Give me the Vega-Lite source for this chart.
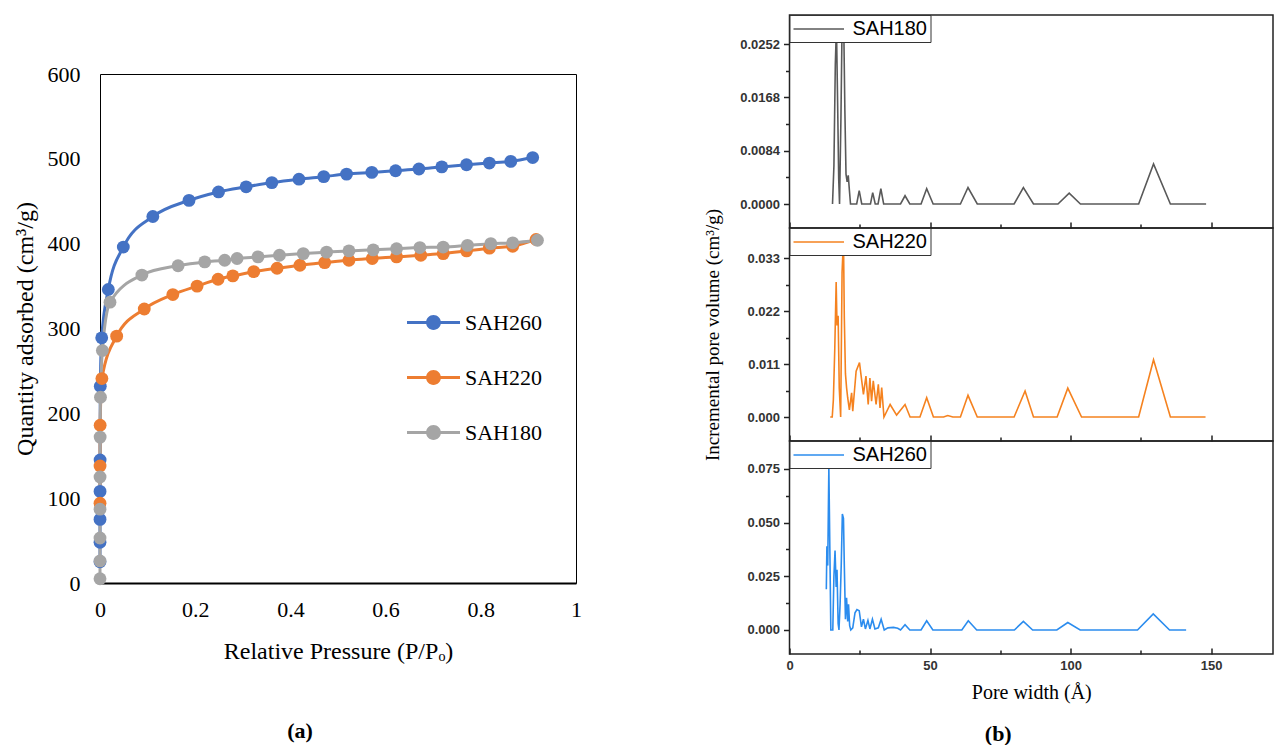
{
  "$schema": "https://vega.github.io/schema/vega-lite/v6.json",
  "background": "white",
  "padding": {"left": 12, "top": 13, "right": 0, "bottom": 0},
  "config": {
    "font": "Liberation Sans",
    "view": {"stroke": null},
    "axis": {"grid": false, "labelFlush": false, "labelOverlap": false}
  },
  "datasets": {
    "iso": [
      {"sample": "SAH260", "p": 0.00001, "q": 25},
      {"sample": "SAH260", "p": 0.00003, "q": 48},
      {"sample": "SAH260", "p": 0.00006, "q": 75},
      {"sample": "SAH260", "p": 0.0001, "q": 108},
      {"sample": "SAH260", "p": 0.0002, "q": 145},
      {"sample": "SAH260", "p": 0.0006, "q": 232},
      {"sample": "SAH260", "p": 0.0036, "q": 289},
      {"sample": "SAH260", "p": 0.0175, "q": 346},
      {"sample": "SAH260", "p": 0.049, "q": 396},
      {"sample": "SAH260", "p": 0.111, "q": 432},
      {"sample": "SAH260", "p": 0.187, "q": 451},
      {"sample": "SAH260", "p": 0.249, "q": 461},
      {"sample": "SAH260", "p": 0.307, "q": 467},
      {"sample": "SAH260", "p": 0.361, "q": 472},
      {"sample": "SAH260", "p": 0.418, "q": 476},
      {"sample": "SAH260", "p": 0.47, "q": 479},
      {"sample": "SAH260", "p": 0.518, "q": 482},
      {"sample": "SAH260", "p": 0.571, "q": 484},
      {"sample": "SAH260", "p": 0.621, "q": 486},
      {"sample": "SAH260", "p": 0.67, "q": 488},
      {"sample": "SAH260", "p": 0.718, "q": 490.5},
      {"sample": "SAH260", "p": 0.77, "q": 493},
      {"sample": "SAH260", "p": 0.818, "q": 495},
      {"sample": "SAH260", "p": 0.863, "q": 497},
      {"sample": "SAH260", "p": 0.909, "q": 501.5},
      {"sample": "SAH220", "p": 0.00003, "q": 94},
      {"sample": "SAH220", "p": 0.0001, "q": 138},
      {"sample": "SAH220", "p": 0.0003, "q": 186},
      {"sample": "SAH220", "p": 0.004, "q": 241},
      {"sample": "SAH220", "p": 0.035, "q": 291},
      {"sample": "SAH220", "p": 0.093, "q": 323},
      {"sample": "SAH220", "p": 0.153, "q": 340},
      {"sample": "SAH220", "p": 0.204, "q": 350},
      {"sample": "SAH220", "p": 0.248, "q": 358},
      {"sample": "SAH220", "p": 0.279, "q": 362},
      {"sample": "SAH220", "p": 0.323, "q": 367},
      {"sample": "SAH220", "p": 0.372, "q": 371},
      {"sample": "SAH220", "p": 0.42, "q": 374.6},
      {"sample": "SAH220", "p": 0.472, "q": 377.7},
      {"sample": "SAH220", "p": 0.523, "q": 380.5},
      {"sample": "SAH220", "p": 0.572, "q": 382.5},
      {"sample": "SAH220", "p": 0.623, "q": 384.4},
      {"sample": "SAH220", "p": 0.674, "q": 386.4},
      {"sample": "SAH220", "p": 0.721, "q": 388.3},
      {"sample": "SAH220", "p": 0.77, "q": 391.5},
      {"sample": "SAH220", "p": 0.818, "q": 394.7},
      {"sample": "SAH220", "p": 0.867, "q": 397},
      {"sample": "SAH220", "p": 0.916, "q": 405},
      {"sample": "SAH180", "p": 0.000005, "q": 5},
      {"sample": "SAH180", "p": 0.00001, "q": 26},
      {"sample": "SAH180", "p": 0.00003, "q": 53},
      {"sample": "SAH180", "p": 0.00005, "q": 87},
      {"sample": "SAH180", "p": 0.0001, "q": 125},
      {"sample": "SAH180", "p": 0.0003, "q": 172},
      {"sample": "SAH180", "p": 0.001, "q": 219},
      {"sample": "SAH180", "p": 0.005, "q": 274},
      {"sample": "SAH180", "p": 0.021, "q": 331},
      {"sample": "SAH180", "p": 0.088, "q": 363},
      {"sample": "SAH180", "p": 0.164, "q": 374},
      {"sample": "SAH180", "p": 0.22, "q": 378.5},
      {"sample": "SAH180", "p": 0.262, "q": 380.5},
      {"sample": "SAH180", "p": 0.288, "q": 382.5},
      {"sample": "SAH180", "p": 0.332, "q": 384.4},
      {"sample": "SAH180", "p": 0.377, "q": 386.4},
      {"sample": "SAH180", "p": 0.427, "q": 388.3},
      {"sample": "SAH180", "p": 0.476, "q": 390},
      {"sample": "SAH180", "p": 0.523, "q": 391.5},
      {"sample": "SAH180", "p": 0.574, "q": 392.7},
      {"sample": "SAH180", "p": 0.623, "q": 394},
      {"sample": "SAH180", "p": 0.672, "q": 395.4},
      {"sample": "SAH180", "p": 0.721, "q": 396},
      {"sample": "SAH180", "p": 0.772, "q": 398},
      {"sample": "SAH180", "p": 0.821, "q": 400},
      {"sample": "SAH180", "p": 0.867, "q": 401},
      {"sample": "SAH180", "p": 0.919, "q": 404}
    ],
    "psd": [
      {"sample": "SAH180", "w": 15.3, "v": 0},
      {"sample": "SAH180", "w": 15.8, "v": 0.006},
      {"sample": "SAH180", "w": 16.3, "v": 0.022},
      {"sample": "SAH180", "w": 16.7, "v": 0.028},
      {"sample": "SAH180", "w": 17.1, "v": 0.0165},
      {"sample": "SAH180", "w": 17.5, "v": 0.004},
      {"sample": "SAH180", "w": 17.8, "v": 0},
      {"sample": "SAH180", "w": 18.3, "v": 0.0136},
      {"sample": "SAH180", "w": 18.7, "v": 0.028},
      {"sample": "SAH180", "w": 19.3, "v": 0.028},
      {"sample": "SAH180", "w": 19.7, "v": 0.0147},
      {"sample": "SAH180", "w": 20.1, "v": 0.0047},
      {"sample": "SAH180", "w": 20.5, "v": 0.0035},
      {"sample": "SAH180", "w": 20.9, "v": 0.0045},
      {"sample": "SAH180", "w": 21.3, "v": 0.0022},
      {"sample": "SAH180", "w": 21.7, "v": 0},
      {"sample": "SAH180", "w": 23.9, "v": 0},
      {"sample": "SAH180", "w": 24.8, "v": 0.0021},
      {"sample": "SAH180", "w": 25.7, "v": 0},
      {"sample": "SAH180", "w": 28.8, "v": 0},
      {"sample": "SAH180", "w": 29.6, "v": 0.0018},
      {"sample": "SAH180", "w": 30.5, "v": 0},
      {"sample": "SAH180", "w": 31.5, "v": 0},
      {"sample": "SAH180", "w": 32.5, "v": 0.0024},
      {"sample": "SAH180", "w": 33.5, "v": 0},
      {"sample": "SAH180", "w": 39.5, "v": 0},
      {"sample": "SAH180", "w": 41.1, "v": 0.0013},
      {"sample": "SAH180", "w": 42.8, "v": 0},
      {"sample": "SAH180", "w": 46.8, "v": 0},
      {"sample": "SAH180", "w": 48.8, "v": 0.0024},
      {"sample": "SAH180", "w": 51.1, "v": 0},
      {"sample": "SAH180", "w": 60.8, "v": 0},
      {"sample": "SAH180", "w": 63.5, "v": 0.0026},
      {"sample": "SAH180", "w": 66.8, "v": 0},
      {"sample": "SAH180", "w": 79.9, "v": 0},
      {"sample": "SAH180", "w": 83.2, "v": 0.0026},
      {"sample": "SAH180", "w": 86.8, "v": 0},
      {"sample": "SAH180", "w": 95.5, "v": 0},
      {"sample": "SAH180", "w": 99.5, "v": 0.0017},
      {"sample": "SAH180", "w": 103.5, "v": 0},
      {"sample": "SAH180", "w": 124.2, "v": 0},
      {"sample": "SAH180", "w": 129.5, "v": 0.0063},
      {"sample": "SAH180", "w": 135.5, "v": 0},
      {"sample": "SAH180", "w": 148.2, "v": 0},
      {"sample": "SAH220", "w": 14.5, "v": 0},
      {"sample": "SAH220", "w": 15.2, "v": 0},
      {"sample": "SAH220", "w": 15.6, "v": 0.0035},
      {"sample": "SAH220", "w": 16.1, "v": 0.014},
      {"sample": "SAH220", "w": 16.6, "v": 0.028},
      {"sample": "SAH220", "w": 16.9, "v": 0.019},
      {"sample": "SAH220", "w": 17.3, "v": 0.021},
      {"sample": "SAH220", "w": 17.7, "v": 0.006},
      {"sample": "SAH220", "w": 18.2, "v": 0},
      {"sample": "SAH220", "w": 18.7, "v": 0.03},
      {"sample": "SAH220", "w": 19.2, "v": 0.037},
      {"sample": "SAH220", "w": 19.5, "v": 0.0206},
      {"sample": "SAH220", "w": 19.9, "v": 0.009},
      {"sample": "SAH220", "w": 20.3, "v": 0.0061},
      {"sample": "SAH220", "w": 20.7, "v": 0.004},
      {"sample": "SAH220", "w": 21.3, "v": 0.0015},
      {"sample": "SAH220", "w": 22.1, "v": 0.005},
      {"sample": "SAH220", "w": 22.5, "v": 0.0012},
      {"sample": "SAH220", "w": 23.7, "v": 0.0095},
      {"sample": "SAH220", "w": 24.9, "v": 0.0113},
      {"sample": "SAH220", "w": 25.7, "v": 0.0075},
      {"sample": "SAH220", "w": 26.3, "v": 0.0047},
      {"sample": "SAH220", "w": 27.2, "v": 0.0085},
      {"sample": "SAH220", "w": 28.0, "v": 0.0026},
      {"sample": "SAH220", "w": 28.6, "v": 0.0081},
      {"sample": "SAH220", "w": 29.2, "v": 0.0033},
      {"sample": "SAH220", "w": 29.8, "v": 0.0075},
      {"sample": "SAH220", "w": 30.8, "v": 0.0026},
      {"sample": "SAH220", "w": 31.6, "v": 0.0068},
      {"sample": "SAH220", "w": 32.2, "v": 0.0019},
      {"sample": "SAH220", "w": 32.8, "v": 0.0061},
      {"sample": "SAH220", "w": 33.6, "v": 0},
      {"sample": "SAH220", "w": 35.8, "v": 0.0026},
      {"sample": "SAH220", "w": 38.1, "v": 0.0004},
      {"sample": "SAH220", "w": 41.1, "v": 0.0026},
      {"sample": "SAH220", "w": 42.9, "v": 0},
      {"sample": "SAH220", "w": 46.4, "v": 0},
      {"sample": "SAH220", "w": 48.8, "v": 0.004},
      {"sample": "SAH220", "w": 51.2, "v": 0},
      {"sample": "SAH220", "w": 54.8, "v": 0},
      {"sample": "SAH220", "w": 56.3, "v": 0.0003},
      {"sample": "SAH220", "w": 58.1, "v": 0},
      {"sample": "SAH220", "w": 60.8, "v": 0},
      {"sample": "SAH220", "w": 63.5, "v": 0.0045},
      {"sample": "SAH220", "w": 66.8, "v": 0},
      {"sample": "SAH220", "w": 79.9, "v": 0},
      {"sample": "SAH220", "w": 83.8, "v": 0.0054},
      {"sample": "SAH220", "w": 86.8, "v": 0},
      {"sample": "SAH220", "w": 95.2, "v": 0},
      {"sample": "SAH220", "w": 99.0, "v": 0.006},
      {"sample": "SAH220", "w": 103.9, "v": 0},
      {"sample": "SAH220", "w": 124.2, "v": 0},
      {"sample": "SAH220", "w": 129.5, "v": 0.0119},
      {"sample": "SAH220", "w": 135.5, "v": 0},
      {"sample": "SAH220", "w": 148.0, "v": 0},
      {"sample": "SAH260", "w": 13.1, "v": 0.019},
      {"sample": "SAH260", "w": 13.3, "v": 0.039},
      {"sample": "SAH260", "w": 13.6, "v": 0.03},
      {"sample": "SAH260", "w": 14.0, "v": 0.076},
      {"sample": "SAH260", "w": 14.4, "v": 0.033},
      {"sample": "SAH260", "w": 14.7, "v": 0},
      {"sample": "SAH260", "w": 15.4, "v": 0},
      {"sample": "SAH260", "w": 15.8, "v": 0.025},
      {"sample": "SAH260", "w": 16.2, "v": 0.037},
      {"sample": "SAH260", "w": 16.6, "v": 0.02},
      {"sample": "SAH260", "w": 16.9, "v": 0.028},
      {"sample": "SAH260", "w": 17.3, "v": 0.003},
      {"sample": "SAH260", "w": 17.6, "v": 0},
      {"sample": "SAH260", "w": 18.0, "v": 0.012},
      {"sample": "SAH260", "w": 18.4, "v": 0.03},
      {"sample": "SAH260", "w": 18.8, "v": 0.054},
      {"sample": "SAH260", "w": 19.2, "v": 0.052},
      {"sample": "SAH260", "w": 19.5, "v": 0.03},
      {"sample": "SAH260", "w": 19.9, "v": 0.005},
      {"sample": "SAH260", "w": 20.3, "v": 0.015},
      {"sample": "SAH260", "w": 20.7, "v": 0.004},
      {"sample": "SAH260", "w": 21.0, "v": 0.012},
      {"sample": "SAH260", "w": 21.4, "v": 0.002},
      {"sample": "SAH260", "w": 21.8, "v": 0},
      {"sample": "SAH260", "w": 22.5, "v": 0.001},
      {"sample": "SAH260", "w": 23.3, "v": 0.008},
      {"sample": "SAH260", "w": 24.0, "v": 0.0095},
      {"sample": "SAH260", "w": 24.8, "v": 0.009},
      {"sample": "SAH260", "w": 25.6, "v": 0.0015},
      {"sample": "SAH260", "w": 26.3, "v": 0.005},
      {"sample": "SAH260", "w": 27.0, "v": 0.0005},
      {"sample": "SAH260", "w": 27.9, "v": 0.0045},
      {"sample": "SAH260", "w": 28.6, "v": 0.0005},
      {"sample": "SAH260", "w": 29.5, "v": 0.005},
      {"sample": "SAH260", "w": 30.4, "v": 0.0005},
      {"sample": "SAH260", "w": 31.6, "v": 0.001},
      {"sample": "SAH260", "w": 32.6, "v": 0.005},
      {"sample": "SAH260", "w": 33.7, "v": 0},
      {"sample": "SAH260", "w": 35.0, "v": 0.001},
      {"sample": "SAH260", "w": 37.0, "v": 0.0012},
      {"sample": "SAH260", "w": 38.5, "v": 0.0008},
      {"sample": "SAH260", "w": 39.5, "v": 0},
      {"sample": "SAH260", "w": 41.1, "v": 0.0025},
      {"sample": "SAH260", "w": 42.8, "v": 0},
      {"sample": "SAH260", "w": 46.8, "v": 0},
      {"sample": "SAH260", "w": 48.8, "v": 0.0043},
      {"sample": "SAH260", "w": 51.0, "v": 0},
      {"sample": "SAH260", "w": 61.3, "v": 0},
      {"sample": "SAH260", "w": 63.6, "v": 0.0043},
      {"sample": "SAH260", "w": 66.6, "v": 0},
      {"sample": "SAH260", "w": 80.0, "v": 0},
      {"sample": "SAH260", "w": 83.2, "v": 0.004},
      {"sample": "SAH260", "w": 86.5, "v": 0},
      {"sample": "SAH260", "w": 95.1, "v": 0},
      {"sample": "SAH260", "w": 99.0, "v": 0.0035},
      {"sample": "SAH260", "w": 103.4, "v": 0},
      {"sample": "SAH260", "w": 123.8, "v": 0},
      {"sample": "SAH260", "w": 129.4, "v": 0.0075},
      {"sample": "SAH260", "w": 135.2, "v": 0},
      {"sample": "SAH260", "w": 141.1, "v": 0}
    ]
  },
  "hconcat": [
    {
      "vconcat": [
        {
          "width": 476,
          "height": 59,
          "data": {"values": [{"k": 0}]},
          "mark": {"type": "point", "opacity": 0}
        },
        {
          "width": 476,
          "height": 509,
          "view": {"stroke": "black", "strokeWidth": 1},
          "data": {"name": "iso"},
          "title": {"text": "(a)", "orient": "bottom", "anchor": "middle", "font": "Liberation Serif", "fontSize": 22, "fontWeight": "bold", "color": "black", "dx": -38, "offset": 58},
          "encoding": {
            "x": {
              "field": "p", "type": "quantitative",
              "scale": {"domain": [0, 1], "nice": false},
              "axis": {
                "values": [0, 0.2, 0.4, 0.6, 0.8, 1], "format": "~g",
                "title": "Relative Pressure (P/Pₒ)",
                "ticks": false, "domainColor": "black", "domainWidth": 2,
                "labelFont": "Liberation Serif", "labelFontSize": 22, "labelColor": "black", "labelPadding": 16,
                "titleFont": "Liberation Serif", "titleFontSize": 24, "titleFontWeight": "normal", "titleColor": "black", "titlePadding": 19
              }
            },
            "y": {
              "field": "q", "type": "quantitative",
              "scale": {"domain": [0, 600], "nice": false},
              "axis": {
                "values": [0, 100, 200, 300, 400, 500, 600],
                "title": "Quantity adsorbed (cm³/g)",
                "domain": false, "ticks": false,
                "labelFont": "Liberation Serif", "labelFontSize": 22, "labelColor": "black", "labelPadding": 20,
                "titleFont": "Liberation Serif", "titleFontSize": 24, "titleFontWeight": "normal", "titleColor": "black", "titlePadding": 10
              }
            }
          },
          "layer": [
            {
              "mark": {"type": "line", "interpolate": "monotone", "strokeWidth": 3},
              "encoding": {
                "stroke": {"field": "sample", "type": "nominal", "scale": {"domain": ["SAH260", "SAH220", "SAH180"], "range": ["#4472C4", "#ED7D31", "#A5A5A5"]}, "legend": null}
              }
            },
            {
              "mark": {"type": "point", "filled": true, "size": 165, "opacity": 1},
              "encoding": {
                "color": {
                  "field": "sample", "type": "nominal",
                  "scale": {"domain": ["SAH260", "SAH220", "SAH180"], "range": ["#4472C4", "#ED7D31", "#A5A5A5"]},
                  "legend": {
                    "orient": "none", "legendX": 307, "legendY": 281, "title": null, "padding": 0,
                    "symbolType": "M-1,-0.055H1V0.055H-1Z M-0.28,0A0.28,0.28 0 1,1 0.28,0A0.28,0.28 0 1,1 -0.28,0Z",
                    "symbolSize": 2809, "symbolStrokeWidth": 0, "symbolOpacity": 1,
                    "labelFont": "Liberation Serif", "labelFontSize": 22, "labelColor": "black", "labelOffset": 5, "rowPadding": 17
                  }
                }
              }
            }
          ]
        }
      ],
      "spacing": 0,
      "bounds": "flush"
    },
    {
      "vconcat": [
        {
          "width": 483.5,
          "height": 213,
          "view": {"stroke": "#222222", "strokeWidth": 1.5},
          "data": {"name": "psd"},
          "transform": [{"filter": "datum.sample === 'SAH180'"}],
          "mark": {"type": "line", "strokeWidth": 1.6, "clip": true},
          "encoding": {
            "x": {
              "field": "w", "type": "quantitative",
              "scale": {"domain": [0, 172], "nice": false},
              "axis": {"values": [0, 25, 50, 75, 100, 125, 150], "labels": false, "title": null, "domain": false, "tickColor": "#222222", "tickWidth": 1.5, "tickSize": {"condition": {"test": "datum.value % 50 != 0", "value": -4}, "value": -6}}
            },
            "y": {
              "field": "v", "type": "quantitative",
              "scale": {"domain": [-0.00378, 0.02977], "nice": false, "zero": false},
              "axis": {
                "values": [0, 0.0042, 0.0084, 0.0126, 0.0168, 0.021, 0.0252],
                "labelExpr": "abs(datum.value/0.0084 - round(datum.value/0.0084)) < 0.01 ? format(datum.value, '.4f') : ''",
                "title": null, "domain": false, "tickColor": "#222222", "tickWidth": 1.5,
                "tickSize": {"condition": {"test": "abs(datum.value/0.0084 - round(datum.value/0.0084)) > 0.01", "value": 4}, "value": 6},
                "labelFont": "Liberation Sans", "labelFontSize": 13, "labelFontWeight": "bold", "labelColor": "#333333", "labelPadding": 4
              }
            },
            "color": {
              "field": "sample", "type": "nominal",
              "scale": {"domain": ["SAH180"], "range": ["#595959"]},
              "legend": {"orient": "top-left", "offset": 0, "padding": 3, "fillColor": "white", "strokeColor": "#333333", "title": null, "symbolType": "M-1,0H4.05", "symbolSize": 400, "symbolStrokeWidth": 1.5, "labelFont": "Liberation Sans", "labelFontSize": 20, "labelColor": "black", "labelOffset": 38}
            }
          }
        },
        {
          "width": 483.5,
          "height": 213,
          "view": {"stroke": "#222222", "strokeWidth": 1.5},
          "data": {"name": "psd"},
          "transform": [{"filter": "datum.sample === 'SAH220'"}],
          "mark": {"type": "line", "strokeWidth": 1.6, "clip": true},
          "encoding": {
            "x": {
              "field": "w", "type": "quantitative",
              "scale": {"domain": [0, 172], "nice": false},
              "axis": {"values": [0, 25, 50, 75, 100, 125, 150], "labels": false, "title": null, "domain": false, "tickColor": "#222222", "tickWidth": 1.5, "tickSize": {"condition": {"test": "datum.value % 50 != 0", "value": -4}, "value": -6}}
            },
            "y": {
              "field": "v", "type": "quantitative",
              "scale": {"domain": [-0.00498, 0.03923], "nice": false, "zero": false},
              "axis": {
                "values": [0, 0.0055, 0.011, 0.0165, 0.022, 0.0275, 0.033],
                "labelExpr": "abs(datum.value/0.011 - round(datum.value/0.011)) < 0.01 ? format(datum.value, '.3f') : ''",
                "title": "Incremental pore volume (cm³/g)",
                "titleFont": "Liberation Serif", "titleFontSize": 19, "titleFontWeight": "normal", "titleColor": "black", "titlePadding": 24,
                "domain": false, "tickColor": "#222222", "tickWidth": 1.5,
                "tickSize": {"condition": {"test": "abs(datum.value/0.011 - round(datum.value/0.011)) > 0.01", "value": 4}, "value": 6},
                "labelFont": "Liberation Sans", "labelFontSize": 13, "labelFontWeight": "bold", "labelColor": "#333333", "labelPadding": 4
              }
            },
            "color": {
              "field": "sample", "type": "nominal",
              "scale": {"domain": ["SAH220"], "range": ["#F5821F"]},
              "legend": {"orient": "top-left", "offset": 0, "padding": 3, "fillColor": "white", "strokeColor": "#333333", "title": null, "symbolType": "M-1,0H4.05", "symbolSize": 400, "symbolStrokeWidth": 1.5, "labelFont": "Liberation Sans", "labelFontSize": 20, "labelColor": "black", "labelOffset": 38}
            }
          }
        },
        {
          "width": 483.5,
          "height": 213,
          "view": {"stroke": "#222222", "strokeWidth": 1.5},
          "data": {"name": "psd"},
          "transform": [{"filter": "datum.sample === 'SAH260'"}],
          "title": {"text": "(b)", "orient": "bottom", "anchor": "middle", "font": "Liberation Serif", "fontSize": 22, "fontWeight": "bold", "color": "black", "dx": -33, "offset": 22},
          "mark": {"type": "line", "strokeWidth": 1.6, "clip": true},
          "encoding": {
            "x": {
              "field": "w", "type": "quantitative",
              "scale": {"domain": [0, 172], "nice": false},
              "axis": {
                "values": [0, 25, 50, 75, 100, 125, 150],
                "labelExpr": "datum.value % 50 == 0 ? datum.label : ''",
                "title": "Pore width (Å)",
                "titleFont": "Liberation Serif", "titleFontSize": 20, "titleFontWeight": "normal", "titleColor": "black", "titlePadding": 8,
                "domain": false, "tickColor": "#222222", "tickWidth": 1.5,
                "tickSize": {"condition": {"test": "datum.value % 50 != 0", "value": -4}, "value": -6},
                "labelFont": "Liberation Sans", "labelFontSize": 13, "labelFontWeight": "bold", "labelColor": "#333333", "labelPadding": 11
              }
            },
            "y": {
              "field": "v", "type": "quantitative",
              "scale": {"domain": [-0.01118, 0.08804], "nice": false, "zero": false},
              "axis": {
                "values": [0, 0.0125, 0.025, 0.0375, 0.05, 0.0625, 0.075],
                "labelExpr": "abs(datum.value/0.025 - round(datum.value/0.025)) < 0.01 ? format(datum.value, '.3f') : ''",
                "title": null, "domain": false, "tickColor": "#222222", "tickWidth": 1.5,
                "tickSize": {"condition": {"test": "abs(datum.value/0.025 - round(datum.value/0.025)) > 0.01", "value": 4}, "value": 6},
                "labelFont": "Liberation Sans", "labelFontSize": 13, "labelFontWeight": "bold", "labelColor": "#333333", "labelPadding": 4
              }
            },
            "color": {
              "field": "sample", "type": "nominal",
              "scale": {"domain": ["SAH260"], "range": ["#2B8CEE"]},
              "legend": {"orient": "top-left", "offset": 0, "padding": 3, "fillColor": "white", "strokeColor": "#333333", "title": null, "symbolType": "M-1,0H4.05", "symbolSize": 400, "symbolStrokeWidth": 1.5, "labelFont": "Liberation Sans", "labelFontSize": 20, "labelColor": "black", "labelOffset": 38}
            }
          }
        }
      ],
      "spacing": 0,
      "bounds": "flush",
      "resolve": {"scale": {"color": "independent"}}
    }
  ],
  "spacing": 689.5,
  "bounds": "flush",
  "resolve": {"scale": {"color": "independent"}}
}
